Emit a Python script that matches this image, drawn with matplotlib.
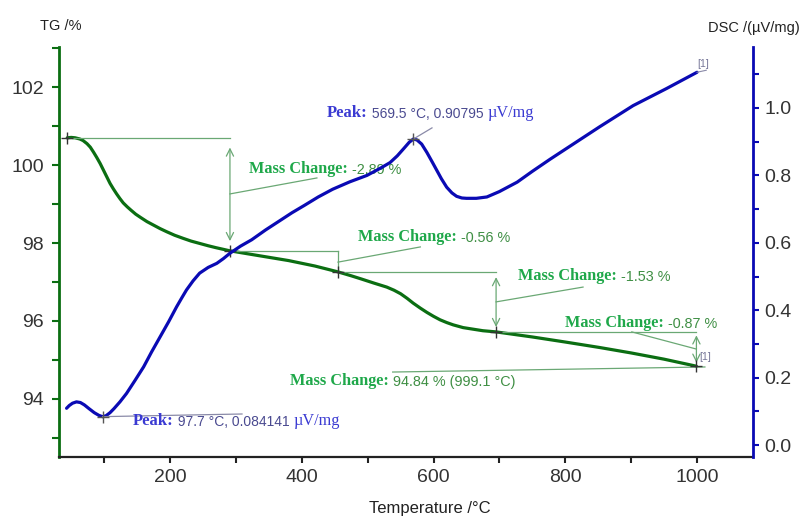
import matplotlib
matplotlib.use('Agg')
import matplotlib.pyplot as plt

# TG curve (temperature in °C, mass in %)
tg_temp = [44, 50, 56, 63, 68, 74, 79, 84, 89, 94, 99, 104, 109, 114, 119, 124, 129, 135, 141, 148,
           155, 165, 175, 185, 195, 207, 220, 232, 245, 258, 270, 291, 330, 380, 420, 455, 475, 490,
           510, 529, 540, 550, 560, 569, 580, 590, 600, 610, 620, 630, 645, 660, 675, 695, 750, 800,
           852, 900, 950, 999]
tg_mass = [100.70, 100.71, 100.70, 100.67, 100.63, 100.55, 100.46, 100.33, 100.19, 100.04, 99.87,
           99.70, 99.53, 99.39, 99.26, 99.14, 99.03, 98.93, 98.84, 98.74, 98.66, 98.55, 98.46, 98.37,
           98.29, 98.20, 98.12, 98.05, 97.99, 97.93, 97.88, 97.80, 97.69, 97.55, 97.41, 97.26, 97.16,
           97.08, 96.97, 96.87, 96.79, 96.70, 96.58, 96.46, 96.33, 96.22, 96.12, 96.03, 95.96, 95.90,
           95.83, 95.79, 95.75, 95.72, 95.59, 95.46, 95.32, 95.18, 95.02, 94.84]

# DSC curve (µV/mg)
dsc_temp = [43, 47, 52, 58, 64, 70, 77, 85, 92, 97.7, 103, 109, 115, 124, 134, 147, 160, 172, 185,
            198, 210, 218, 225, 235, 245, 258, 271, 281, 291, 307, 324, 345, 367, 385, 404, 425, 447,
            473, 499, 520, 534, 545, 555, 563, 569.5, 575, 582, 590, 598, 605, 612, 620, 628, 635, 643,
            650, 665, 681, 700, 727, 750, 777, 802, 852, 903, 954, 1000]
dsc_val = [0.109, 0.117, 0.124, 0.128, 0.126, 0.119, 0.108, 0.096, 0.088, 0.084, 0.087, 0.096, 0.108,
           0.128, 0.153, 0.192, 0.232, 0.276, 0.321, 0.366, 0.410, 0.437, 0.460, 0.487, 0.510, 0.527,
           0.539, 0.553, 0.569, 0.590, 0.609, 0.638, 0.666, 0.689, 0.711, 0.736, 0.759, 0.781, 0.800,
           0.822, 0.838, 0.858, 0.880, 0.898, 0.908, 0.905, 0.893, 0.868, 0.840, 0.815, 0.790, 0.765,
           0.748, 0.738, 0.733, 0.732, 0.732, 0.736, 0.752, 0.780, 0.812, 0.848, 0.880, 0.944, 1.007,
           1.058, 1.106]

# mass change steps
step_temp = [44, 291, 455, 695, 999.1]
step_mass = [100.70, 97.80, 97.25, 95.72, 94.84]
mass_change = ['-2.89 %', '-0.56 %', '-1.53 %', '-0.87 %']
residual = '94.84 % (999.1 °C)'

# DSC peaks
peak_temp = [97.7, 569.5]
peak_val = [0.084141, 0.90795]

TG_C = '#0b6e12'
DSC_C = '#0a0ab4'
ANN_C = '#6aa874'
LBL_C = '#1fa84a'
NUM_C = '#3f8f44'
PK_C = '#3a3ad2'
PKNUM_C = '#4a4a90'
SERIF = 'Liberation Serif'
SANS = 'Liberation Sans'

plt.rcParams['font.family'] = SANS

fig = plt.figure(figsize=(8.02, 5.16), dpi=100)
ax = fig.add_axes([59 / 802, 59 / 516, 694 / 802, 410 / 516])
ax2 = ax.twinx()

ax.plot(tg_temp, tg_mass, color=TG_C, lw=2.3, solid_capstyle='round', solid_joinstyle='round')
ax2.plot(dsc_temp, dsc_val, color=DSC_C, lw=2.3, solid_capstyle='round', solid_joinstyle='round')

ax.set_xlim(31.5, 1085)
ax.set_ylim(92.51, 103.03)
ax2.set_ylim(-0.0356, 1.181)

ax.set_xticks(range(200, 1001, 200))
ax.set_xticks(range(100, 1001, 100), minor=True)
ax.set_yticks(range(94, 103, 2))
ax.set_yticks(range(93, 104, 1), minor=True)
ax2.set_yticks([0.0, 0.2, 0.4, 0.6, 0.8, 1.0])
ax2.set_yticks([0.1, 0.3, 0.5, 0.7, 0.9, 1.1], minor=True)
ax2.set_yticklabels(['0.0', '0.2', '0.4', '0.6', '0.8', '1.0'])

for a in (ax, ax2):
    a.spines['top'].set_visible(False)
ax.spines['right'].set_visible(False)
ax2.spines['left'].set_visible(False)
ax2.spines['bottom'].set_visible(False)
ax.spines['left'].set_color(TG_C)
ax.spines['left'].set_linewidth(2)
ax2.spines['right'].set_color(DSC_C)
ax2.spines['right'].set_linewidth(2)
ax.spines['bottom'].set_color('#222222')
ax.spines['bottom'].set_linewidth(1.6)

ax.tick_params(axis='y', which='both', colors=TG_C, direction='out', width=1.5, length=5,
               labelcolor='#333333', labelsize=14, pad=6)
ax2.tick_params(axis='y', which='both', colors=DSC_C, direction='out', width=1.5, length=4,
                labelcolor='#333333', labelsize=14, pad=4)
ax.tick_params(axis='x', which='both', colors='#222222', direction='out', width=1.5, length=4,
               labelcolor='#333333', labelsize=14, pad=5)

fig.text(40 / 802, 1 - 26 / 516, 'TG /%', fontsize=10.5, color='#222222', va='center', ha='left')
fig.text(708 / 802, 1 - 28 / 516, 'DSC /(µV/mg)', fontsize=10.5, color='#222222', va='center', ha='left')
fig.text(430 / 802, 1 - 508 / 516, 'Temperature /°C', fontsize=12, color='#222222', va='center', ha='center')


def mixed(a, x, y, parts):
    s, kw = parts[0]
    prev = a.text(x, y, s, va='center', ha='left', **kw)
    for s, kw in parts[1:]:
        prev = a.annotate(s, xy=(1, 0), xycoords=prev, va='bottom', ha='left', **kw)


lbl_kw = dict(family=SERIF, weight='bold', fontsize=11.7, color=LBL_C)
num_kw = dict(family=SANS, fontsize=10.4, color=NUM_C)
line_kw = dict(color=ANN_C, lw=0.9)

# horizontal reference lines and vertical arrows for each step
shrinks = [7, 0, 3.5, 2.5]
for i in range(4):
    t0, t1 = step_temp[i], step_temp[i + 1]
    m0, m1 = step_mass[i], step_mass[i + 1]
    ax.plot([t0, t1], [m0, m0], **line_kw)
    if shrinks[i] > 0:
        ax.annotate('', xy=(t1, m1), xytext=(t1, m0),
                    arrowprops=dict(arrowstyle='<->', color=ANN_C, lw=0.9, mutation_scale=13,
                                    shrinkA=shrinks[i], shrinkB=shrinks[i]))
    else:
        ax.plot([t1, t1], [m0, m1], **line_kw)

# leaders and labels
ax.plot([291, 423], [99.26, 99.67], **line_kw)
mixed(ax, 320, 99.9, [('Mass Change:', lbl_kw), (' ' + mass_change[0], num_kw)])
ax.plot([455, 580], [97.51, 97.9], **line_kw)
mixed(ax, 485, 98.15, [('Mass Change:', lbl_kw), (' ' + mass_change[1], num_kw)])
ax.plot([695, 827], [96.49, 96.87], **line_kw)
mixed(ax, 728, 97.15, [('Mass Change:', lbl_kw), (' ' + mass_change[2], num_kw)])
ax.plot([901, 999], [95.72, 95.28], **line_kw)
mixed(ax, 800, 95.95, [('Mass Change:', lbl_kw), (' ' + mass_change[3], num_kw)])
ax.plot([538, 1012], [94.69, 94.82], **line_kw)
mixed(ax, 382, 94.46, [('Mass Change:', lbl_kw), (' ' + residual, num_kw)])

ax.plot(step_temp, step_mass, ls='none', marker='+', ms=8, mew=1, color='#333333', zorder=5)
ax.text(1004, 95.08, '[1]', fontsize=7.5, color='#777799', va='center', ha='left')

# DSC peak annotations
pk_kw = dict(family=SERIF, weight='bold', fontsize=12, color=PK_C)
pknum_kw = dict(family=SANS, fontsize=10, color=PKNUM_C)
unit_kw = dict(family=SERIF, fontsize=11.7, color=PK_C)
ax2.plot([peak_temp[1], 597.7], [peak_val[1], 0.941], color='#8a8aa8', lw=0.9)
mixed(ax2, 438.3, 0.985, [('Peak:', pk_kw), (' %.1f °C, %.5f ' % (peak_temp[1], peak_val[1]), pknum_kw),
                          ('µV/mg', unit_kw)])
ax2.plot([peak_temp[0], 309.3], [peak_val[0], 0.092], color='#8a8aa8', lw=0.9)
mixed(ax2, 143.8, 0.071, [('Peak:', pk_kw), (' %.1f °C, %.6f ' % (peak_temp[0], peak_val[0]), pknum_kw),
                          ('µV/mg', unit_kw)])
ax2.plot(peak_temp, peak_val, ls='none', marker='+', ms=8, mew=1, color='#555555', zorder=5)
ax2.plot([dsc_temp[-1], dsc_temp[-1] + 14], [dsc_val[-1], dsc_val[-1] + 0.006], color='#8a8aa8', lw=0.8)
ax2.text(1001, 1.115, '[1]', fontsize=7.5, color='#777799', va='bottom', ha='left')

fig.savefig('out.png', dpi=100)
